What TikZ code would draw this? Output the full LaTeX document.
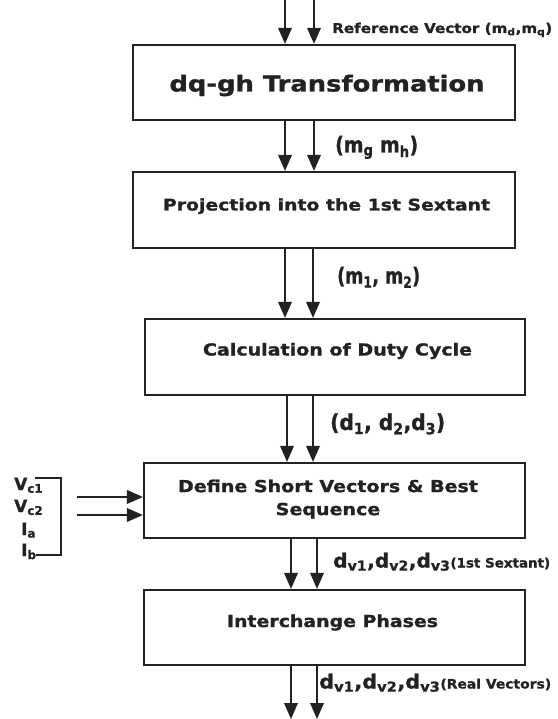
\documentclass[tikz,border=0pt]{standalone}
\usepackage{fontspec}
\setmainfont{DejaVu Sans}[BoldFeatures={FakeBold=1.2}]
\usetikzlibrary{arrows.meta}
\definecolor{ink}{HTML}{222222}
\begin{document}
\begin{tikzpicture}[x=1pt,y=-1pt,
  box/.style={draw=ink, line width=2.2pt, inner sep=0pt},
  arr/.style={draw=ink, line width=1.9pt, -{Triangle[width=13.5pt,length=16pt]}},
  ttl/.style={inner sep=0pt, text=ink, font=\bfseries},
  lbl/.style={inner sep=0pt, anchor=base west, text=ink, font=\bfseries},
  brk/.style={draw=ink, line width=1.8pt}]
\useasboundingbox (0,0) rectangle (557,719);

% boxes
\node[box, minimum width=382pt, minimum height=75pt] (b1) at (324,82.5) {};
\node[box, minimum width=382pt, minimum height=76pt] (b2) at (324,210) {};
\node[box, minimum width=380pt, minimum height=76pt] (b3) at (335,357) {};
\node[box, minimum width=381pt, minimum height=75pt] (b4) at (334.5,500.5) {};
\node[box, minimum width=381pt, minimum height=75pt] (b5) at (334.5,627.5) {};

% box texts
\node[ttl, anchor=base, font=\bfseries\fontsize{22}{26}\selectfont] (t1) at (327,91.5)
  {\resizebox{315pt}{\height}{dq-gh Transformation}};
\node[ttl, anchor=base, font=\bfseries\fontsize{16}{19}\selectfont] (t2) at (326.5,210.5)
  {\resizebox{327pt}{\height}{Projection into the 1st Sextant}};
\node[ttl, anchor=base, font=\bfseries\fontsize{16.5}{19}\selectfont] (t3) at (337.5,355.5)
  {\resizebox{269pt}{\height}{Calculation of Duty Cycle}};
\node[ttl, anchor=center, font=\bfseries\fontsize{16.5}{23}\selectfont] (t4) at (328,499)
  {\resizebox{300pt}{\height}{\begin{tabular}{@{}c@{}}Define Short Vectors \& Best\\Sequence\end{tabular}}};
\node[ttl, anchor=base, font=\bfseries\fontsize{16.5}{19}\selectfont] (t5) at (332.5,627)
  {\resizebox{211pt}{\height}{Interchange Phases}};

% top input arrows
\coordinate (r1) at (285,0);
\coordinate (r2) at (314,0);
\draw[arr] (r1) -- (r1 |- b1.north);
\draw[arr] (r2) -- (r2 |- b1.north);
\node[lbl, font=\bfseries\fontsize{13.5}{16}\selectfont] (lref) at (332,33)
  {\resizebox{220pt}{\height}{Reference Vector (m\textsubscript{d},m\textsubscript{q})}};

% b1 -> b2
\draw[arr] (r1 |- b1.south) -- (r1 |- b2.north);
\draw[arr] (r2 |- b1.south) -- (r2 |- b2.north);
\node[lbl, font=\bfseries\fontsize{22}{26}\selectfont] (lgh) at (335,152.5)
  {\resizebox{83pt}{\height}{(m\textsubscript{g} m\textsubscript{h})}};

% b2 -> b3
\coordinate (s1) at (285,0);
\coordinate (s2) at (313,0);
\draw[arr] (s1 |- b2.south) -- (s1 |- b3.north);
\draw[arr] (s2 |- b2.south) -- (s2 |- b3.north);
\node[lbl, font=\bfseries\fontsize{22}{26}\selectfont] (l12) at (337,283.5)
  {\resizebox{83pt}{\height}{(m\textsubscript{1}, m\textsubscript{2})}};

% b3 -> b4
\coordinate (u1) at (287,0);
\coordinate (u2) at (313,0);
\draw[arr] (u1 |- b3.south) -- (u1 |- b4.north);
\draw[arr] (u2 |- b3.south) -- (u2 |- b4.north);
\node[lbl, font=\bfseries\fontsize{22}{26}\selectfont] (ld) at (330,430)
  {\resizebox{115pt}{\height}{(d\textsubscript{1}, d\textsubscript{2},d\textsubscript{3})}};

% b4 -> b5
\coordinate (w1) at (291,0);
\coordinate (w2) at (317,0);
\draw[arr] (w1 |- b4.south) -- (w1 |- b5.north);
\draw[arr] (w2 |- b4.south) -- (w2 |- b5.north);
\node[lbl, font=\bfseries\fontsize{19.5}{23}\selectfont] (lsx) at (333,567.5)
  {\resizebox{217pt}{\height}{d\textsubscript{v1},d\textsubscript{v2},d\textsubscript{v3}{\fontsize{13}{15}\selectfont(1st Sextant)}}};

% b5 -> out
\coordinate (o1) at (291,719);
\coordinate (o2) at (317,719);
\draw[arr] (o1 |- b5.south) -- (o1);
\draw[arr] (o2 |- b5.south) -- (o2);
\node[lbl, font=\bfseries\fontsize{19.5}{23}\selectfont] (lrv) at (319,688.5)
  {\resizebox{232pt}{\height}{d\textsubscript{v1},d\textsubscript{v2},d\textsubscript{v3}{\fontsize{13}{15}\selectfont(Real Vectors)}}};

% side inputs
\node[lbl, font=\bfseries\fontsize{17}{20}\selectfont] (vc1) at (14,490) {V\textsubscript{c1}};
\node[lbl, font=\bfseries\fontsize{17}{20}\selectfont] (vc2) at (14,512) {V\textsubscript{c2}};
\node[lbl, font=\bfseries\fontsize{17}{20}\selectfont] (ia) at (21,535) {I\textsubscript{a}};
\node[lbl, font=\bfseries\fontsize{17}{20}\selectfont] (ib) at (21,556) {I\textsubscript{b}};
\coordinate (k1) at (35,478);
\coordinate (k2) at (61,478);
\coordinate (k3) at (61,555);
\coordinate (k4) at (36,555);
\draw[brk] (k1) -- (k2) -- (k3) -- (k4);
\coordinate (in1) at (77,497);
\coordinate (in2) at (77,515);
\draw[arr] (in1) -- (in1 -| b4.west);
\draw[arr] (in2) -- (in2 -| b4.west);
\end{tikzpicture}
\end{document}
